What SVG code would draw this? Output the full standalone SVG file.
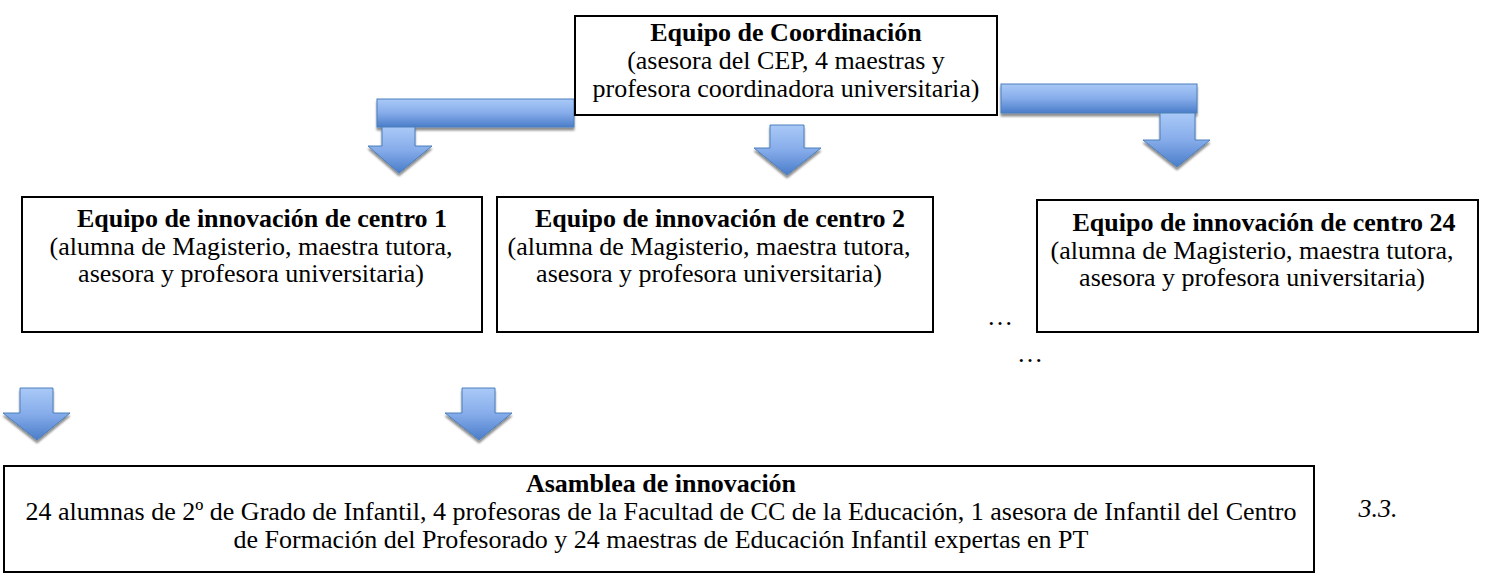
<svg xmlns="http://www.w3.org/2000/svg" width="1490" height="575" viewBox="0 0 1490 575">
<style>
.box{fill:#fff;stroke:#000;stroke-width:2}
.t{font-family:"Liberation Serif","Times New Roman",serif;font-size:26px;fill:#000;text-anchor:middle}
.b{font-weight:bold}
.arr{fill:url(#bg);stroke:#4a7ebb;stroke-width:1;filter:url(#sh)}
</style>
<defs>
<linearGradient id="bg" x1="0" y1="0" x2="0" y2="1">
<stop offset="0" stop-color="#a9c9f7"/>
<stop offset="0.5" stop-color="#86acea"/>
<stop offset="1" stop-color="#4a7dc9"/>
</linearGradient>
<filter id="sh" x="-20%" y="-20%" width="140%" height="160%">
<feGaussianBlur in="SourceAlpha" stdDeviation="1.2"/>
<feOffset dx="0" dy="3" result="o"/>
<feComponentTransfer><feFuncA type="linear" slope="0.45"/></feComponentTransfer>
<feMerge><feMergeNode/><feMergeNode in="SourceGraphic"/></feMerge>
</filter>
</defs>

<g id="connectors">
<rect class="arr" x="377" y="99" width="197" height="28"/>
<path class="arr" d="M382,127 H415 V146 H432 L399,173 L368,146 H382 Z"/>
<path class="arr" d="M770,125 H804 V148 H821 L787,175 L754,148 H770 Z"/>
<rect class="arr" x="1001" y="84" width="196" height="29"/>
<path class="arr" d="M1160,113 H1195 V140 H1210 L1177,167 L1143,140 H1160 Z"/>
<path class="arr" d="M20,388 H53 V413 H70 L37,440 L3,413 H20 Z"/>
<path class="arr" d="M462,388 H495 V413 H512 L479,440 L445,413 H462 Z"/>
</g>

<g id="coord">
<rect class="box" x="575" y="16" width="422" height="99"/>
<text class="t b" x="786" y="41">Equipo de Coordinación</text>
<text class="t" x="786" y="69">(asesora del CEP, 4 maestras y</text>
<text class="t" x="786" y="97">profesora coordinadora universitaria)</text>
</g>

<g id="centro1">
<rect class="box" x="22" y="197" width="460" height="135"/>
<text class="t b" x="262" y="227">Equipo de innovación de centro 1</text>
<text class="t" x="251" y="255">(alumna de Magisterio, maestra tutora,</text>
<text class="t" x="251" y="282">asesora y profesora universitaria)</text>
</g>

<g id="centro2">
<rect class="box" x="497" y="197" width="436" height="135"/>
<text class="t b" x="720" y="227">Equipo de innovación de centro 2</text>
<text class="t" x="709" y="255">(alumna de Magisterio, maestra tutora,</text>
<text class="t" x="709" y="282">asesora y profesora universitaria)</text>
</g>

<g id="centro24">
<rect class="box" x="1037" y="200" width="441" height="132"/>
<text class="t b" x="1264" y="231">Equipo de innovación de centro 24</text>
<text class="t" x="1252" y="259">(alumna de Magisterio, maestra tutora,</text>
<text class="t" x="1252" y="286">asesora y profesora universitaria)</text>
</g>

<g id="ellipses">
<text class="t" x="1000" y="325">…</text>
<text class="t" x="1030" y="362">…</text>
</g>

<g id="asamblea">
<rect class="box" x="4" y="466" width="1310" height="106"/>
<text class="t b" x="661" y="492">Asamblea de innovación</text>
<text class="t" x="661" y="520">24 alumnas de 2º de Grado de Infantil, 4 profesoras de la Facultad de CC de la Educación, 1 asesora de Infantil del Centro</text>
<text class="t" x="661" y="548">de Formación del Profesorado y 24 maestras de Educación Infantil expertas en PT</text>
</g>

<text class="t" x="1378" y="517" style="font-style:italic">3.3.</text>
</svg>
